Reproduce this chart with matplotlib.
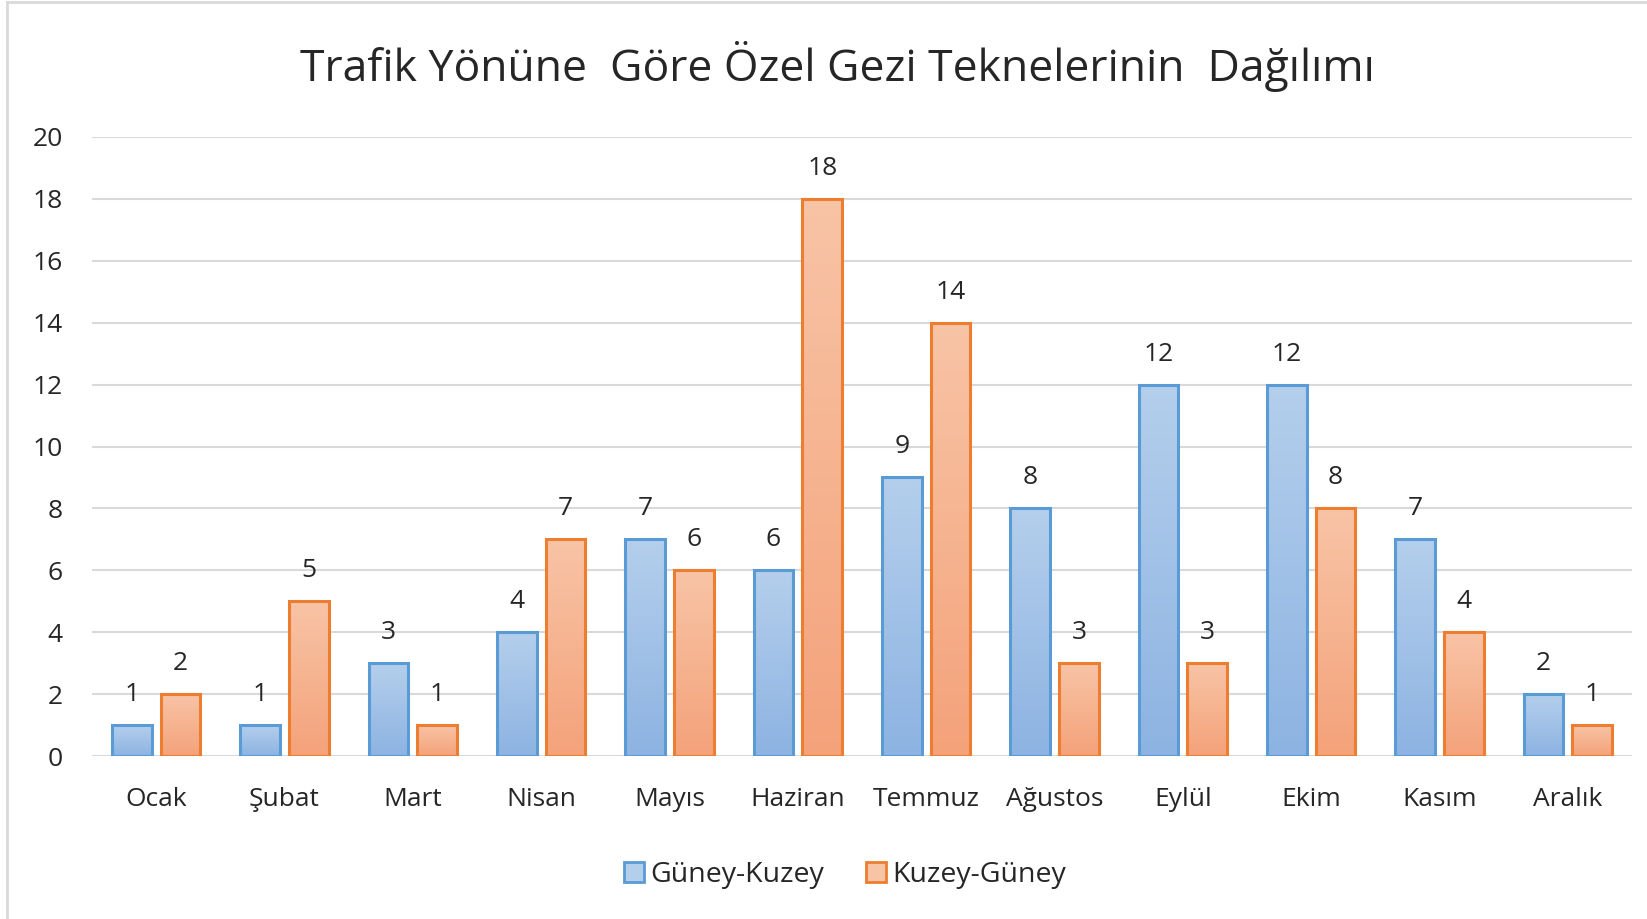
import matplotlib
matplotlib.use("Agg")
import matplotlib.pyplot as plt
import numpy as np
from matplotlib.colors import LinearSegmentedColormap
from matplotlib.lines import Line2D

plt.rcParams['font.family'] = ['Open Sans', 'DejaVu Sans']

months = ["Ocak", "Şubat", "Mart", "Nisan", "Mayıs", "Haziran", "Temmuz",
          "Ağustos", "Eylül", "Ekim", "Kasım", "Aralık"]
guney_kuzey = [1, 1, 3, 4, 7, 6, 9, 8, 12, 12, 7, 2]
kuzey_guney = [2, 5, 1, 7, 6, 18, 14, 3, 3, 8, 4, 1]
series_names = ["Güney-Kuzey", "Kuzey-Güney"]
yticks = [0, 2, 4, 6, 8, 10, 12, 14, 16, 18, 20]
title = "Trafik Yönüne  Göre Özel Gezi Teknelerinin  Dağılımı"

W, H = 1647, 919
fig = plt.figure(figsize=(W / 100, H / 100), dpi=100)
ax = fig.add_axes([92 / W, 1 - 756 / H, (1632 - 92) / W, (756 - 137) / H])

x = np.arange(len(months))
bw = 0.31
off = 0.19

edge_cols = ["#5b9bd5", "#ed7d31"]
grad_cols = [("#b4cfec", "#8db3e2"), ("#f8c4a6", "#f4a27a")]

for vals, d, ec, gc in zip([guney_kuzey, kuzey_guney], [-off, off], edge_cols, grad_cols):
    bars = ax.bar(x + d, vals, bw, facecolor="none", edgecolor=ec, linewidth=2.2, zorder=4)
    cmap = LinearSegmentedColormap.from_list("g", [gc[1], gc[0]])
    grad = np.linspace(0, 1, 256).reshape(-1, 1)
    for b in bars:
        x0, y0 = b.get_x(), b.get_y()
        w, h = b.get_width(), b.get_height()
        ax.imshow(grad, extent=[x0, x0 + w, y0, y0 + h], origin="lower",
                  aspect="auto", cmap=cmap, zorder=3, interpolation="bilinear")
    for b, v in zip(bars, vals):
        ax.annotate(str(v), (b.get_x() + b.get_width() / 2, v), xytext=(0, 13),
                    textcoords="offset points", ha="center", va="bottom",
                    fontsize=19, color="#262626")

ax.set_xlim(-0.5, len(months) - 0.5)
ax.set_ylim(0, 20)
ax.set_yticks(yticks)
ax.set_xticks(x)
ax.set_xticklabels(months)
ax.tick_params(axis="both", length=0, labelsize=19, labelcolor="#262626")
ax.tick_params(axis="y", pad=21)
ax.tick_params(axis="x", pad=22)
ax.grid(axis="y", color="#d9d9d9", linewidth=1.5, zorder=0)
ax.set_axisbelow(True)
for s in ax.spines.values():
    s.set_visible(False)

fig.text(837 / W, 1 - 67 / H, title, ha="center", va="center",
         fontsize=32, color="#262626")

handles = [plt.Rectangle((0, 0), 1, 1, facecolor=gc[0], edgecolor=ec, linewidth=2)
           for gc, ec in zip(grad_cols, edge_cols)]
fig.legend(handles, series_names, loc="center", bbox_to_anchor=(845 / W, 1 - 875 / H),
           ncol=2, frameon=False, fontsize=20.5, handlelength=0.7, handleheight=0.7,
           handletextpad=0.2, columnspacing=1.5, labelcolor="#262626")

fig.add_artist(Line2D([7 / W, 7 / W], [0, 1 - 2 / H], color="#d9d9d9", lw=2))
fig.add_artist(Line2D([7 / W, 1], [1 - 2 / H, 1 - 2 / H], color="#d9d9d9", lw=2))

fig.savefig("out.png", dpi=100)
